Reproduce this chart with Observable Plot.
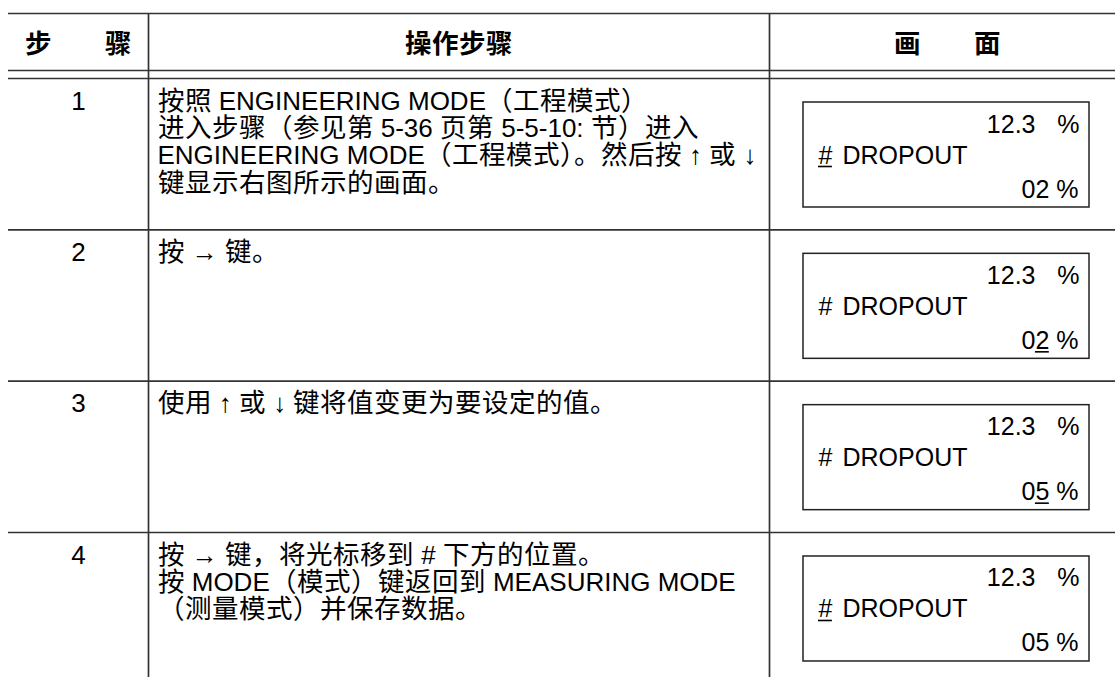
<!DOCTYPE html>
<html>
<head>
<meta charset="utf-8">
<script src="https://cdn.jsdelivr.net/npm/d3@7"></script>
<script src="https://cdn.jsdelivr.net/npm/@observablehq/plot@0.6"></script>
<style>
  html, body { margin: 0; padding: 0; background: #fff; }
  @font-face {
    font-family: "CJKWide";
    src: local("Noto Sans CJK SC"), local("Noto Sans CJK SC Regular"), local("NotoSansCJKsc-Regular");
    font-weight: 400;
    size-adjust: 102%;
  }
  @font-face {
    font-family: "CJKWide";
    src: local("Noto Sans CJK SC Bold"), local("NotoSansCJKsc-Bold");
    font-weight: 700;
    size-adjust: 102%;
  }
</style>
</head>
<body>
<div id="chart"></div>
<script>
// ---- data ----
const headerStep = ["步", "骤"];
const headerOp = ["操作步骤"];
const headerScreen = ["画", "面"];
const steps = ["1", "2", "3", "4"];
const instructions = [
  ["按照 ENGINEERING MODE（工程模式）",
   "进入步骤（参见第 5-36 页第 5-5-10: 节）进入",
   "ENGINEERING MODE（工程模式）。然后按 ↑ 或 ↓",
   "键显示右图所示的画面。"],
  ["按 → 键。"],
  ["使用 ↑ 或 ↓ 键将值变更为要设定的值。"],
  ["按 → 键，将光标移到 # 下方的位置。",
   "按 MODE（模式）键返回到 MEASURING MODE",
   "（测量模式）并保存数据。"]
];
const screenTop = ["12.3", "12.3", "12.3", "12.3"];
const screenTopUnit = ["%", "%", "%", "%"];
const screenMark = ["#", "#", "#", "#"];
const screenLabel = ["DROPOUT", "DROPOUT", "DROPOUT", "DROPOUT"];
const screenValue = ["02", "02", "05", "05"];
const screenUnit = ["%", "%", "%", "%"];
const cursorAt = ["mark", "value", "value", "mark"];

// ---- layout ----
const W = 1115, H = 677;
const FONT = "'Liberation Sans', Arial, CJKWide, 'Noto Sans CJK SC', sans-serif";
const FS = 26;      // table text
const BFS = 25;     // screen box text
const tableLeft = 8, colA = 148, colB = 769;
const topLine = 13, headLine1 = 70, headLine2 = 78;
const rowH = 151.33;
const rowTop = i => headLine2 + i * rowH;
const lineH = 27.3;
const boxX1 = 803, boxX2 = 1089, boxOff = 24, boxH = 105;

const hLines = [topLine, headLine1, headLine2, ...steps.slice(1).map((_, i) => rowTop(i + 1))];
const vLines = [colA, colB];

const headerTexts = [
  {t: headerStep[0], x: 37.5}, {t: headerStep[1], x: 118},
  {t: headerOp[0], x: 458},
  {t: headerScreen[0], x: 907}, {t: headerScreen[1], x: 987}
];

const stepTexts = steps.map((s, i) => ({t: s, x: 78, y: rowTop(i) + 23}));
const instrTexts = instructions.flatMap((lines, i) =>
  lines.map((l, j) => ({t: l, x: 157, y: rowTop(i) + 23 + j * lineH})));

const boxes = steps.map((_, i) => ({x1: boxX1, x2: boxX2, y1: rowTop(i) + boxOff, y2: rowTop(i) + boxOff + boxH}));

const digitW = 0.556 * BFS;
const unitW = (0.278 + 0.889) * BFS; // width of " %"
const baseOff = 0.32 * BFS + 3;      // from text middle to underline
const endTexts = [], startTexts = [], underlines = [];
steps.forEach((_, i) => {
  const bt = rowTop(i) + boxOff;
  endTexts.push({t: screenTop[i], x: 1035, y: bt + 22});
  endTexts.push({t: screenTopUnit[i], x: 1079, y: bt + 22});
  endTexts.push({t: screenValue[i] + " " + screenUnit[i], x: 1078, y: bt + 87});
  startTexts.push({t: screenMark[i], x: 818, y: bt + 53});
  startTexts.push({t: screenLabel[i], x: 842, y: bt + 53});
  if (cursorAt[i] === "mark") underlines.push({x1: 818, x2: 818 + digitW, y: bt + 53 + baseOff});
  else underlines.push({x1: 1078 - unitW - digitW, x2: 1078 - unitW, y: bt + 87 + baseOff});
});

const plot = Plot.plot({
  width: W, height: H,
  margin: 0,
  x: {domain: [0, W], range: [0, W], axis: null},
  y: {domain: [0, H], range: [0, H], axis: null},
  style: {background: "#fff", fontFamily: FONT},
  marks: [
    Plot.ruleY(hLines, {y: d => d, x1: tableLeft, x2: W, stroke: "#333", strokeWidth: 1.7}),
    Plot.ruleX(vLines, {x: d => d, y1: topLine, y2: H, stroke: "#333", strokeWidth: 1.7}),
    Plot.rect(boxes, {x1: "x1", x2: "x2", y1: "y1", y2: "y2", fill: "none", stroke: "#222", strokeWidth: 1.5}),
    Plot.text(headerTexts, {x: "x", y: () => 44, text: "t", fontSize: FS, fontWeight: "bold", fill: "#000", fontFamily: FONT}),
    Plot.text(stepTexts, {x: "x", y: "y", text: "t", fontSize: FS, fill: "#000", fontFamily: FONT}),
    Plot.text(instrTexts, {x: "x", y: "y", text: "t", textAnchor: "start", fontSize: FS, fill: "#000", fontFamily: FONT}),
    Plot.text(endTexts, {x: "x", y: "y", text: "t", textAnchor: "end", fontSize: BFS, fill: "#000", fontFamily: FONT}),
    Plot.text(startTexts, {x: "x", y: "y", text: "t", textAnchor: "start", fontSize: BFS, fill: "#000", fontFamily: FONT}),
    Plot.ruleY(underlines, {y: "y", x1: "x1", x2: "x2", stroke: "#000", strokeWidth: 1.6})
  ]
});
document.getElementById("chart").appendChild(plot);
</script>
</body>
</html>
